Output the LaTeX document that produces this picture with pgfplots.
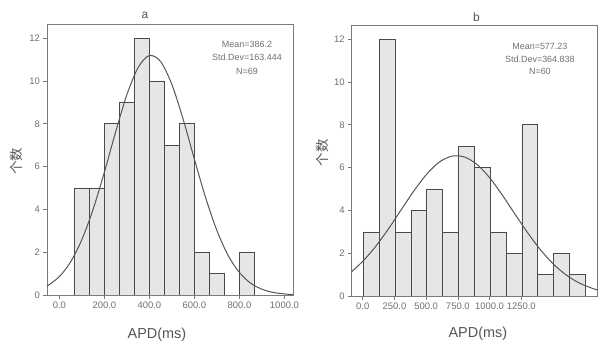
\documentclass[border=0pt]{standalone}
\usepackage{pgfplots}
\pgfplotsset{compat=1.18}
\usepackage{fontspec}
\setmainfont{Liberation Sans}
\newfontfamily\cjk{Noto Sans CJK SC}
\definecolor{axgray}{HTML}{7A7A7A}
\definecolor{txtgray}{HTML}{555555}
\definecolor{tickgray}{HTML}{707070}
\definecolor{barfill}{HTML}{E6E6E6}
\definecolor{baredge}{HTML}{4A4A4A}
\definecolor{curvec}{HTML}{555555}

\tikzset{stat/.style={font=\fontsize{9}{10}\selectfont, text=tickgray, anchor=center}}
\pgfplotsset{
 histo/.style={
  scale only axis, width=246bp, height=271bp,
  ymin=0, ymax=12.66, ytick={0,2,...,12},
  tick pos=left, tick align=outside, major tick length=3.5bp,
  axis line style={axgray, line width=0.7pt},
  tick style={axgray, line width=0.6pt},
  ticklabel style={font=\fontsize{9.5}{11}\selectfont, text=tickgray},
  /pgf/number format/assume math mode=true,
  xticklabel style={/pgf/number format/.cd, fixed, fixed zerofill, precision=1, 1000 sep={}},
  scaled x ticks=false,
  every axis title shift=0pt,
  xlabel style={anchor=center, font=\fontsize{14.5}{16}\selectfont, text=txtgray},
  ylabel style={anchor=center, font=\fontsize{13.5}{15}\selectfont\cjk, text=txtgray},
  title style={anchor=center, font=\fontsize{12}{14}\selectfont, text=txtgray},
 }
}

\begin{document}
\begin{tikzpicture}
\path[use as bounding box] (0bp,0bp) rectangle (598bp,344bp);

% ---------------- panel a ----------------
\begin{axis}[histo, at={(47bp,49bp)}, anchor=south west,
  xmin=-55, xmax=1038, xtick={0,200,...,1000},
  title={a}, title style={at={(rel axis cs:0.398,1.033)}},
  xlabel={APD(ms)}, xlabel style={at={(rel axis cs:0.447,-0.145)}},
  ylabel={个数}, ylabel style={at={(rel axis cs:-0.125,0.494)}}]
\addplot[ybar interval, fill=barfill, draw=baredge, line width=0.55pt] coordinates {
 (65.3,5) (132,5) (198.7,8) (265.3,9) (332,12) (398.7,10) (465.3,7)
 (532,8) (598.7,2) (665.3,1) (732,0) (798.7,2) (865.3,2)};
\addplot[smooth, curvec, line width=1pt] coordinates {
 (-55,0.41) (0,0.86) (50,1.55) (100,2.59) (150,4.01) (200,5.74) (250,7.62)
 (300,9.36) (350,10.63) (400,11.19) (450,10.90) (500,9.83) (550,8.21)
 (600,6.34) (650,4.54) (700,3.01) (750,1.84) (800,1.05) (850,0.55)
 (900,0.27) (950,0.12) (1000,0.05) (1038,0.02)};
\node[stat] at (rel axis cs:0.813,0.926) {Mean=386.2};
\node[stat] at (rel axis cs:0.813,0.877) {Std.Dev=163.444};
\node[stat] at (rel axis cs:0.813,0.826) {N=69};
\end{axis}

% ---------------- panel b ----------------
\begin{axis}[histo, at={(351.7bp,48bp)}, anchor=south west,
  xmin=-87, xmax=1853, xtick={0,250,...,1250},
  title={b}, title style={at={(rel axis cs:0.507,1.03)}},
  xlabel={APD(ms)}, xlabel style={at={(rel axis cs:0.513,-0.14)}},
  ylabel={个数}, ylabel style={at={(rel axis cs:-0.119,0.528)}}]
\addplot[ybar interval, fill=barfill, draw=baredge, line width=0.55pt] coordinates {
 (5,3) (130,12) (255,3) (380,4) (505,5) (630,3) (755,7) (880,6)
 (1005,3) (1130,2) (1255,8) (1380,1) (1505,2) (1630,1) (1755,1)};
\addplot[smooth, curvec, line width=1pt] coordinates {
 (-87,1.14) (0,1.62) (100,2.30) (200,3.11) (300,4.00) (400,4.88) (500,5.66)
 (600,6.24) (700,6.53) (800,6.50) (900,6.15) (1000,5.53) (1100,4.72)
 (1200,3.83) (1300,2.96) (1400,2.17) (1500,1.51) (1600,1.00) (1700,0.63)
 (1800,0.38) (1853,0.28)};
\node[stat] at (rel axis cs:0.765,0.920) {Mean=577.23};
\node[stat] at (rel axis cs:0.765,0.875) {Std.Dev=364.838};
\node[stat] at (rel axis cs:0.765,0.829) {N=60};
\end{axis}
\end{tikzpicture}
\end{document}
